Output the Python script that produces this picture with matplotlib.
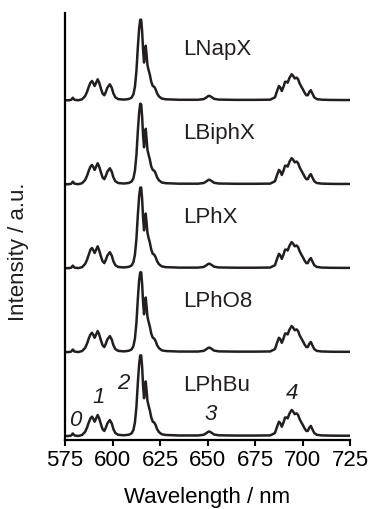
import matplotlib
matplotlib.use('Agg')
import matplotlib.pyplot as plt

plt.rcParams['font.family'] = ['Liberation Sans', 'DejaVu Sans']

# wavelength grid (nm)
wl = [575, 577, 578.3, 579.1, 580, 582, 584,
      585.6, 586.6, 587.5, 588.4, 589.2, 590, 590.6, 591.4, 592.2, 593, 593.9, 594.8, 595.7, 596.5, 597.3, 598.6, 599.6, 600.5, 601.5, 603,
      606, 608.5, 610, 611, 611.8, 612.6, 613.3, 614, 614.6, 615.1, 615.6, 616.1, 616.6, 617.0, 617.5, 617.9, 618.4, 619.0, 619.6, 620.4, 621.2, 622.0, 622.7, 623.5, 624.5, 626, 628,
      635, 645, 648, 649.5, 650.5, 651.2, 652, 653.5, 656, 665, 675, 683,
      685.5, 686.6, 687.6, 688.4, 689.1, 690, 690.8, 691.6, 692.2, 693.2, 694.3, 695.1, 695.9, 696.9, 697.7, 698.5, 699.2, 700.2, 701.1, 702, 702.8, 703.6, 704.4, 705.2, 706.2, 707.5, 710, 715, 720, 725]

# normalised intensities, one list per sample
lnapx = [0.0, 0.0, 0.006, 0.03, 0.006, 0.0, 0.012,
         0.05, 0.10, 0.16, 0.21, 0.23, 0.20, 0.17, 0.21, 0.25, 0.21, 0.14, 0.08, 0.06, 0.10, 0.15, 0.19, 0.15, 0.08, 0.035, 0.014,
         0.008, 0.015, 0.03, 0.07, 0.16, 0.35, 0.62, 0.85, 0.96, 0.96, 0.82, 0.60, 0.45, 0.55, 0.65, 0.55, 0.42, 0.36, 0.31, 0.22, 0.17, 0.16, 0.13, 0.08, 0.045, 0.02, 0.012,
         0.006, 0.006, 0.014, 0.035, 0.052, 0.052, 0.04, 0.017, 0.008, 0.005, 0.005, 0.007,
         0.035, 0.11, 0.17, 0.15, 0.11, 0.16, 0.22, 0.22, 0.21, 0.27, 0.31, 0.29, 0.26, 0.27, 0.25, 0.20, 0.17, 0.13, 0.09, 0.06, 0.06, 0.10, 0.12, 0.08, 0.035, 0.014, 0.007, 0.004, 0.003, 0.003]
lbiphx = [0.0, 0.0, 0.006, 0.03, 0.006, 0.0, 0.012,
          0.05, 0.10, 0.16, 0.21, 0.23, 0.20, 0.17, 0.21, 0.25, 0.21, 0.14, 0.08, 0.06, 0.10, 0.15, 0.19, 0.15, 0.08, 0.035, 0.014,
          0.008, 0.015, 0.03, 0.07, 0.16, 0.35, 0.62, 0.85, 0.96, 0.95, 0.80, 0.58, 0.44, 0.56, 0.66, 0.55, 0.41, 0.35, 0.30, 0.21, 0.17, 0.16, 0.13, 0.08, 0.045, 0.02, 0.012,
          0.006, 0.006, 0.014, 0.035, 0.052, 0.052, 0.04, 0.017, 0.008, 0.005, 0.005, 0.007,
          0.035, 0.11, 0.17, 0.15, 0.11, 0.16, 0.22, 0.22, 0.21, 0.27, 0.31, 0.29, 0.26, 0.27, 0.25, 0.20, 0.17, 0.13, 0.09, 0.06, 0.06, 0.10, 0.12, 0.08, 0.035, 0.014, 0.007, 0.004, 0.003, 0.003]
lphx = [0.0, 0.0, 0.006, 0.03, 0.006, 0.0, 0.012,
        0.05, 0.10, 0.16, 0.22, 0.24, 0.21, 0.18, 0.22, 0.26, 0.21, 0.14, 0.08, 0.06, 0.10, 0.15, 0.19, 0.15, 0.08, 0.035, 0.014,
        0.008, 0.015, 0.03, 0.07, 0.16, 0.35, 0.62, 0.85, 0.96, 0.96, 0.82, 0.60, 0.45, 0.55, 0.65, 0.55, 0.42, 0.36, 0.31, 0.22, 0.17, 0.16, 0.13, 0.08, 0.045, 0.02, 0.012,
        0.006, 0.006, 0.014, 0.035, 0.052, 0.052, 0.04, 0.017, 0.008, 0.005, 0.005, 0.007,
        0.035, 0.11, 0.17, 0.15, 0.11, 0.16, 0.22, 0.22, 0.21, 0.27, 0.31, 0.29, 0.26, 0.27, 0.25, 0.20, 0.17, 0.13, 0.09, 0.06, 0.06, 0.10, 0.12, 0.08, 0.035, 0.014, 0.007, 0.004, 0.003, 0.003]
lpho8 = [0.0, 0.0, 0.006, 0.03, 0.006, 0.0, 0.012,
         0.05, 0.10, 0.16, 0.21, 0.23, 0.20, 0.17, 0.21, 0.25, 0.21, 0.14, 0.08, 0.06, 0.10, 0.15, 0.19, 0.15, 0.08, 0.035, 0.014,
         0.008, 0.015, 0.03, 0.07, 0.16, 0.35, 0.62, 0.85, 0.95, 0.95, 0.81, 0.59, 0.45, 0.56, 0.65, 0.55, 0.42, 0.36, 0.31, 0.22, 0.17, 0.16, 0.13, 0.08, 0.045, 0.02, 0.012,
         0.006, 0.006, 0.014, 0.035, 0.052, 0.052, 0.04, 0.017, 0.008, 0.005, 0.005, 0.007,
         0.035, 0.11, 0.17, 0.15, 0.11, 0.16, 0.22, 0.22, 0.21, 0.27, 0.31, 0.29, 0.26, 0.27, 0.25, 0.20, 0.17, 0.13, 0.09, 0.06, 0.06, 0.10, 0.12, 0.08, 0.035, 0.014, 0.007, 0.004, 0.003, 0.003]
lphbu = [0.0, 0.0, 0.006, 0.03, 0.006, 0.0, 0.012,
         0.05, 0.10, 0.16, 0.21, 0.23, 0.20, 0.17, 0.21, 0.25, 0.21, 0.14, 0.08, 0.06, 0.10, 0.15, 0.19, 0.15, 0.08, 0.035, 0.014,
         0.008, 0.015, 0.03, 0.07, 0.16, 0.35, 0.62, 0.85, 0.96, 0.96, 0.82, 0.60, 0.45, 0.55, 0.65, 0.55, 0.42, 0.36, 0.31, 0.22, 0.17, 0.16, 0.13, 0.08, 0.045, 0.02, 0.012,
         0.006, 0.006, 0.014, 0.035, 0.052, 0.052, 0.04, 0.017, 0.008, 0.005, 0.005, 0.007,
         0.035, 0.11, 0.17, 0.15, 0.11, 0.16, 0.22, 0.22, 0.21, 0.27, 0.31, 0.29, 0.26, 0.27, 0.25, 0.20, 0.17, 0.13, 0.09, 0.06, 0.06, 0.10, 0.12, 0.08, 0.035, 0.014, 0.007, 0.004, 0.003, 0.003]

names = ['LPhBu', 'LPhO8', 'LPhX', 'LBiphX', 'LNapX']
spectra = [lphbu, lpho8, lphx, lbiphx, lnapx]

# transition labels 0-4 and where they sit
trans_labels = ['0', '1', '2', '3', '4']
trans_x = [580.3, 592.5, 605.9, 651.6, 694.7]
trans_y = [0.19, 0.46, 0.63, 0.25, 0.51]

fig = plt.figure(figsize=(3.71, 5.09), dpi=100)
ax = fig.add_axes([65/371, 1 - 440/509, 285/371, 427/509])

for i, (name, s) in enumerate(zip(names, spectra)):
    assert len(s) == len(wl)
    ax.plot(wl, [v + i for v in s], color='#231f20', lw=1.8,
            solid_joinstyle='round')
    ax.text(637.2, i + 0.6, name, fontsize=16, ha='left', va='center',
            color='#231f20')

for t, x, y in zip(trans_labels, trans_x, trans_y):
    ax.text(x, y, t, fontsize=16, style='italic', ha='center', va='center',
            color='#231f20')

ax.set_xlim(575, 725)
ax.set_ylim(-0.048, 5.04)
ax.set_xticks([575, 600, 625, 650, 675, 700, 725])
ax.set_yticks([])
ax.spines['top'].set_visible(False)
ax.spines['right'].set_visible(False)
ax.spines['left'].set_linewidth(1.6)
ax.spines['bottom'].set_linewidth(1.6)
ax.tick_params(axis='x', direction='out', length=4, width=1.5, labelsize=16, pad=3)
ax.set_xlabel('Wavelength / nm', fontsize=16, labelpad=12)
fig.text(19/371, 1 - 252/509, 'Intensity / a.u.', rotation=90, fontsize=16,
         ha='center', va='center', color='#231f20')

fig.savefig('out.png', dpi=100)
